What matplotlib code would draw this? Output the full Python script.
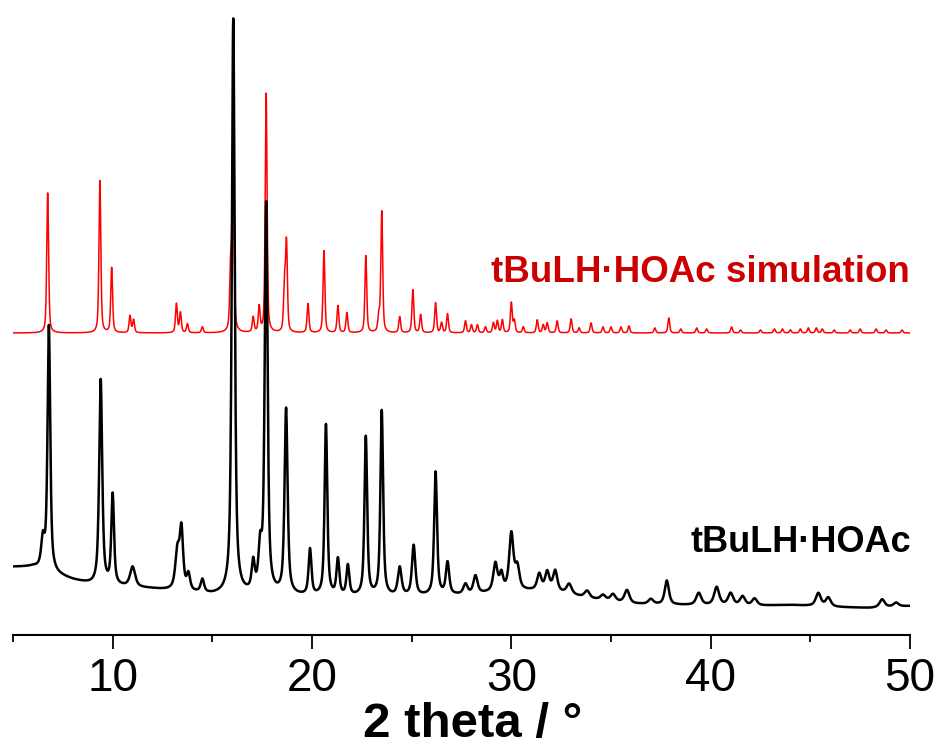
import numpy as np
import matplotlib
matplotlib.use('Agg')
import matplotlib.pyplot as plt

plt.rcParams['font.family'] = ['Liberation Sans', 'DejaVu Sans']

# experimental pattern: peak positions (2theta), heights, widths (FWHM)
exp_pos = [6.5, 6.8, 9.4, 10.0, 11.0, 13.25, 13.45, 13.8, 14.5, 16.05, 17.05, 17.4, 17.7,
           18.7, 19.9, 20.7, 21.3, 21.8, 22.7, 23.5, 24.4, 25.1, 26.2, 26.8, 27.7, 28.2,
           29.2, 29.5, 30.0, 30.3, 31.4, 31.8, 32.2, 32.9, 33.8, 34.6, 35.1, 35.8, 37.0,
           37.8, 39.4, 40.3, 41.0, 41.6, 42.2, 45.4, 45.9, 48.6, 49.3]
exp_amp = [28, 245, 205, 90, 20, 38, 58, 16, 13, 575, 28, 40, 388,
           185, 46, 171, 36, 30, 159, 185, 28, 50, 123, 32, 10, 18,
           28, 16, 56, 22, 16, 18, 20, 10, 7, 5, 7, 13, 5,
           24, 12, 18, 12, 9, 7, 13, 9, 8, 4]
exp_wid = [0.2, 0.16, 0.18, 0.16, 0.3, 0.25, 0.2, 0.2, 0.2, 0.17, 0.18, 0.2, 0.17,
           0.18, 0.17, 0.16, 0.17, 0.17, 0.16, 0.16, 0.22, 0.2, 0.17, 0.2, 0.25, 0.25,
           0.25, 0.2, 0.25, 0.25, 0.25, 0.25, 0.25, 0.3, 0.3, 0.3, 0.3, 0.3, 0.3,
           0.25, 0.3, 0.3, 0.3, 0.3, 0.3, 0.3, 0.3, 0.3, 0.3]
# background of the experimental pattern read at a few angles
bg_x = [5, 6, 8, 9, 12, 15, 18, 20, 24, 28, 30, 32, 34, 36, 38, 42, 44, 46, 48, 50]
bg_y = [68, 68, 55, 50, 46, 40, 40, 38, 38, 40, 44, 44, 36, 31, 30, 29, 30, 28, 27, 29]

# simulated pattern
sim_pos = [6.74, 9.36, 9.95, 10.87, 11.05, 13.2, 13.4, 13.75, 14.5, 15.92, 16.04, 17.05,
           17.35, 17.7, 18.62, 18.72, 19.8, 20.6, 21.3, 21.75, 22.7, 23.35, 23.5, 24.4,
           25.06, 25.45, 26.2, 26.5, 26.8, 27.7, 28.0, 28.3, 28.7, 29.1, 29.3, 29.55,
           30.0, 30.15, 30.6, 31.3, 31.6, 31.8, 32.3, 33.0, 33.4, 34.0, 34.6, 35.0,
           35.5, 35.9, 37.2, 37.9, 38.5, 39.3, 39.8, 41.05, 41.5, 42.5, 43.2, 43.6,
           44.0, 44.5, 44.9, 45.3, 45.6, 46.2, 47.0, 47.5, 48.3, 48.8, 49.6]
sim_amp = [140, 152, 65, 17, 13, 29, 20, 9, 6, 60, 200, 15,
           25, 239, 45, 88, 29, 82, 27, 20, 77, 15, 121, 16,
           43, 18, 30, 10, 19, 12, 8, 8, 6, 10, 12, 13,
           30, 12, 6, 13, 8, 10, 12, 14, 5, 10, 6, 6,
           6, 7, 5, 15, 4, 5, 4, 6, 3, 3, 4, 4,
           3, 4, 5, 5, 4, 3, 3, 4, 4, 3, 3]
sim_offset = 302

labels = ['tBuLH\u00b7HOAc simulation', 'tBuLH\u00b7HOAc']


def pattern(x, pos, amp, wid, eta):
    y = np.zeros_like(x)
    for p, a, w in zip(pos, amp, wid):
        g = np.exp(-4 * np.log(2) * ((x - p) / w) ** 2)
        l = 1 / (1 + 4 * ((x - p) / w) ** 2)
        y += a * ((1 - eta) * g + eta * l)
    return y


x = np.arange(5, 50.001, 0.01)
exp_y = np.interp(x, bg_x, bg_y) + pattern(x, exp_pos, exp_amp, exp_wid, 0.7)
sim_y = sim_offset + pattern(x, sim_pos, sim_amp, [0.11] * len(sim_pos), 0.5)

fig = plt.figure(figsize=(9.4, 7.47), dpi=100)
ax = fig.add_axes([13 / 940, 112 / 747, 897 / 940, 635 / 747])
ax.plot(x, sim_y, color='#ff0000', lw=1.1)
ax.plot(x, exp_y, color='black', lw=1.8)

ax.set_xlim(5, 50)
ax.set_ylim(0, 635)
for s in ['left', 'right', 'top']:
    ax.spines[s].set_visible(False)
ax.spines['bottom'].set_linewidth(1.5)
ax.set_yticks([])
ax.set_xticks([10, 20, 30, 40, 50])
ax.set_xticks([5, 15, 25, 35, 45], minor=True)
ax.tick_params(axis='x', which='major', length=10, width=1.3, labelsize=33, pad=6)
ax.tick_params(axis='x', which='minor', length=5, width=1.3)

ax.text(910 / 940, 1 - 273 / 747, labels[0], transform=fig.transFigure, color='#cc0000',
        fontsize=26.5, fontweight='bold', ha='right', va='center')
ax.text(911 / 940, 1 - 543 / 747, labels[1], transform=fig.transFigure, color='black',
        fontsize=26, fontweight='bold', ha='right', va='center')
fig.text(473 / 940, 1 - 724 / 747, '2 theta / \u00b0', fontsize=35.5, fontweight='bold',
         ha='center', va='center')

fig.savefig('out.png', dpi=100)
